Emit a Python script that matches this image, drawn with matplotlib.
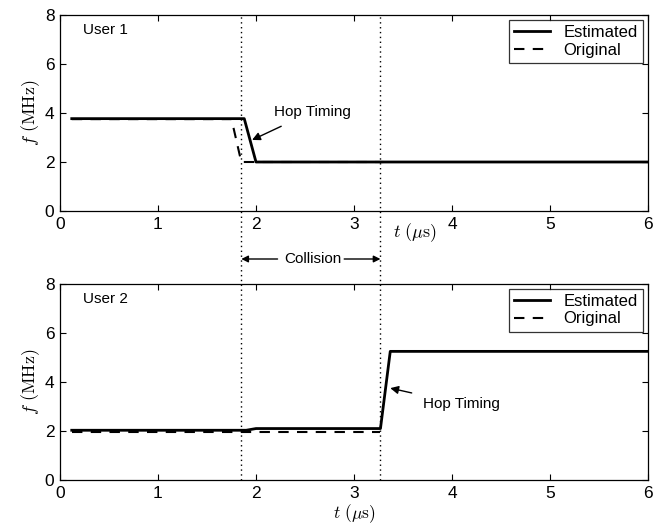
import matplotlib
matplotlib.use('Agg')

import matplotlib.pyplot as plt
from matplotlib.lines import Line2D
from matplotlib.transforms import blended_transform_factory

plt.rcParams['font.family'] = ['Liberation Sans', 'DejaVu Sans']
plt.rcParams['mathtext.fontset'] = 'cm'

# ---------------------------------------------------------------------------
# Data (t in us, f in MHz)
# ---------------------------------------------------------------------------
user1_est_t = [0.12, 1.88, 2.0, 6.0]
user1_est_f = [3.77, 3.77, 2.0, 2.0]
user1_orig_t = [0.12, 1.75, 1.85, 3.3]
user1_orig_f = [3.75, 3.75, 2.0, 2.0]

user2_est_t = [0.12, 1.9, 2.0, 3.27, 3.37, 6.0]
user2_est_f = [2.03, 2.03, 2.1, 2.1, 5.25, 5.25]
user2_orig_t = [0.12, 3.27]
user2_orig_f = [1.97, 1.97]

collision_t = [1.85, 3.27]
xticks = [0, 1, 2, 3, 4, 5, 6]
yticks = [0, 2, 4, 6, 8]

W, H = 655, 524
fig = plt.figure(figsize=(W / 100, H / 100), dpi=100)
left, width = 60 / W, 588 / W
ax1 = fig.add_axes([left, 1 - 211 / H, width, 196 / H])
ax2 = fig.add_axes([left, 1 - 480 / H, width, 196 / H])


def style_axes(ax):
    ax.set_xlim(0, 6)
    ax.set_ylim(0, 8)
    ax.set_xticks(xticks)
    ax.set_yticks(yticks)
    ax.tick_params(direction='in', length=4, width=0.8, top=True, right=True,
                   labelsize=12.5, pad=4)
    for sp in ax.spines.values():
        sp.set_linewidth(0.9)
    ax.set_ylabel(r'$f\ (\mathrm{MHz})$', fontsize=13, labelpad=2)


for ax, (et, ef, ot, of), name in [
    (ax1, (user1_est_t, user1_est_f, user1_orig_t, user1_orig_f), 'User 1'),
    (ax2, (user2_est_t, user2_est_f, user2_orig_t, user2_orig_f), 'User 2'),
]:
    style_axes(ax)
    ax.plot(ot, of, color='black', linestyle=(0, (5, 4)), linewidth=1.5,
            label='Original', zorder=3)
    ax.plot(et, ef, color='black', linestyle='-', linewidth=2.0,
            label='Estimated', zorder=4)
    ax.text(0.23, 7.4, name, fontsize=11, va='center', ha='left')
    handles, labels = ax.get_legend_handles_labels()
    leg = ax.legend(handles[::-1], labels[::-1], loc='upper right', fontsize=12,
                    frameon=True, fancybox=False, edgecolor='black',
                    borderaxespad=0.3, handlelength=2.2, labelspacing=0.15,
                    borderpad=0.3)
    leg.get_frame().set_linewidth(0.9)

# vertical dotted collision markers across both panels
trans = blended_transform_factory(ax1.transData, fig.transFigure)
for t in collision_t:
    fig.add_artist(Line2D([t, t], [1 - 480 / H, 1 - 15 / H], transform=trans,
                          color='black', linestyle=(0, (1, 2.5)), linewidth=1.0))

# x label of upper panel sits next to the tick labels
ax1.text(3.4, -0.11, r'$t\ (\mu\mathrm{s})$', transform=ax1.get_xaxis_transform(),
         fontsize=13, ha='left', va='center')
ax2.set_xlabel(r'$t\ (\mu\mathrm{s})$', fontsize=12.5, labelpad=1)

# Hop timing annotations
ax1.annotate('Hop Timing', xy=(1.96, 2.9), xytext=(2.18, 4.05),
             fontsize=11, va='center', ha='left',
             arrowprops=dict(arrowstyle='-|>', color='black', lw=1.0,
                             shrinkA=8, shrinkB=0, mutation_scale=12))
ax2.annotate('Hop Timing', xy=(3.37, 3.75), xytext=(3.7, 3.1),
             fontsize=11, va='center', ha='left',
             arrowprops=dict(arrowstyle='-|>', color='black', lw=1.0,
                             shrinkA=6, shrinkB=0, mutation_scale=12))

# Collision span between the panels
xt = ax1.get_xaxis_transform()
y_col = -(259 - 211) / 196
ax1.text(2.58, y_col, 'Collision', transform=xt, fontsize=11,
         ha='center', va='center')
ax1.annotate('', xy=(collision_t[0], y_col), xytext=(2.22, y_col), xycoords=xt,
             textcoords=xt, annotation_clip=False,
             arrowprops=dict(arrowstyle='-|>', color='black', lw=1.0,
                             shrinkA=0, shrinkB=0, mutation_scale=10))
ax1.annotate('', xy=(collision_t[1], y_col), xytext=(2.9, y_col), xycoords=xt,
             textcoords=xt, annotation_clip=False,
             arrowprops=dict(arrowstyle='-|>', color='black', lw=1.0,
                             shrinkA=0, shrinkB=0, mutation_scale=10))

fig.savefig('out.png', dpi=100)
plt.close(fig)
